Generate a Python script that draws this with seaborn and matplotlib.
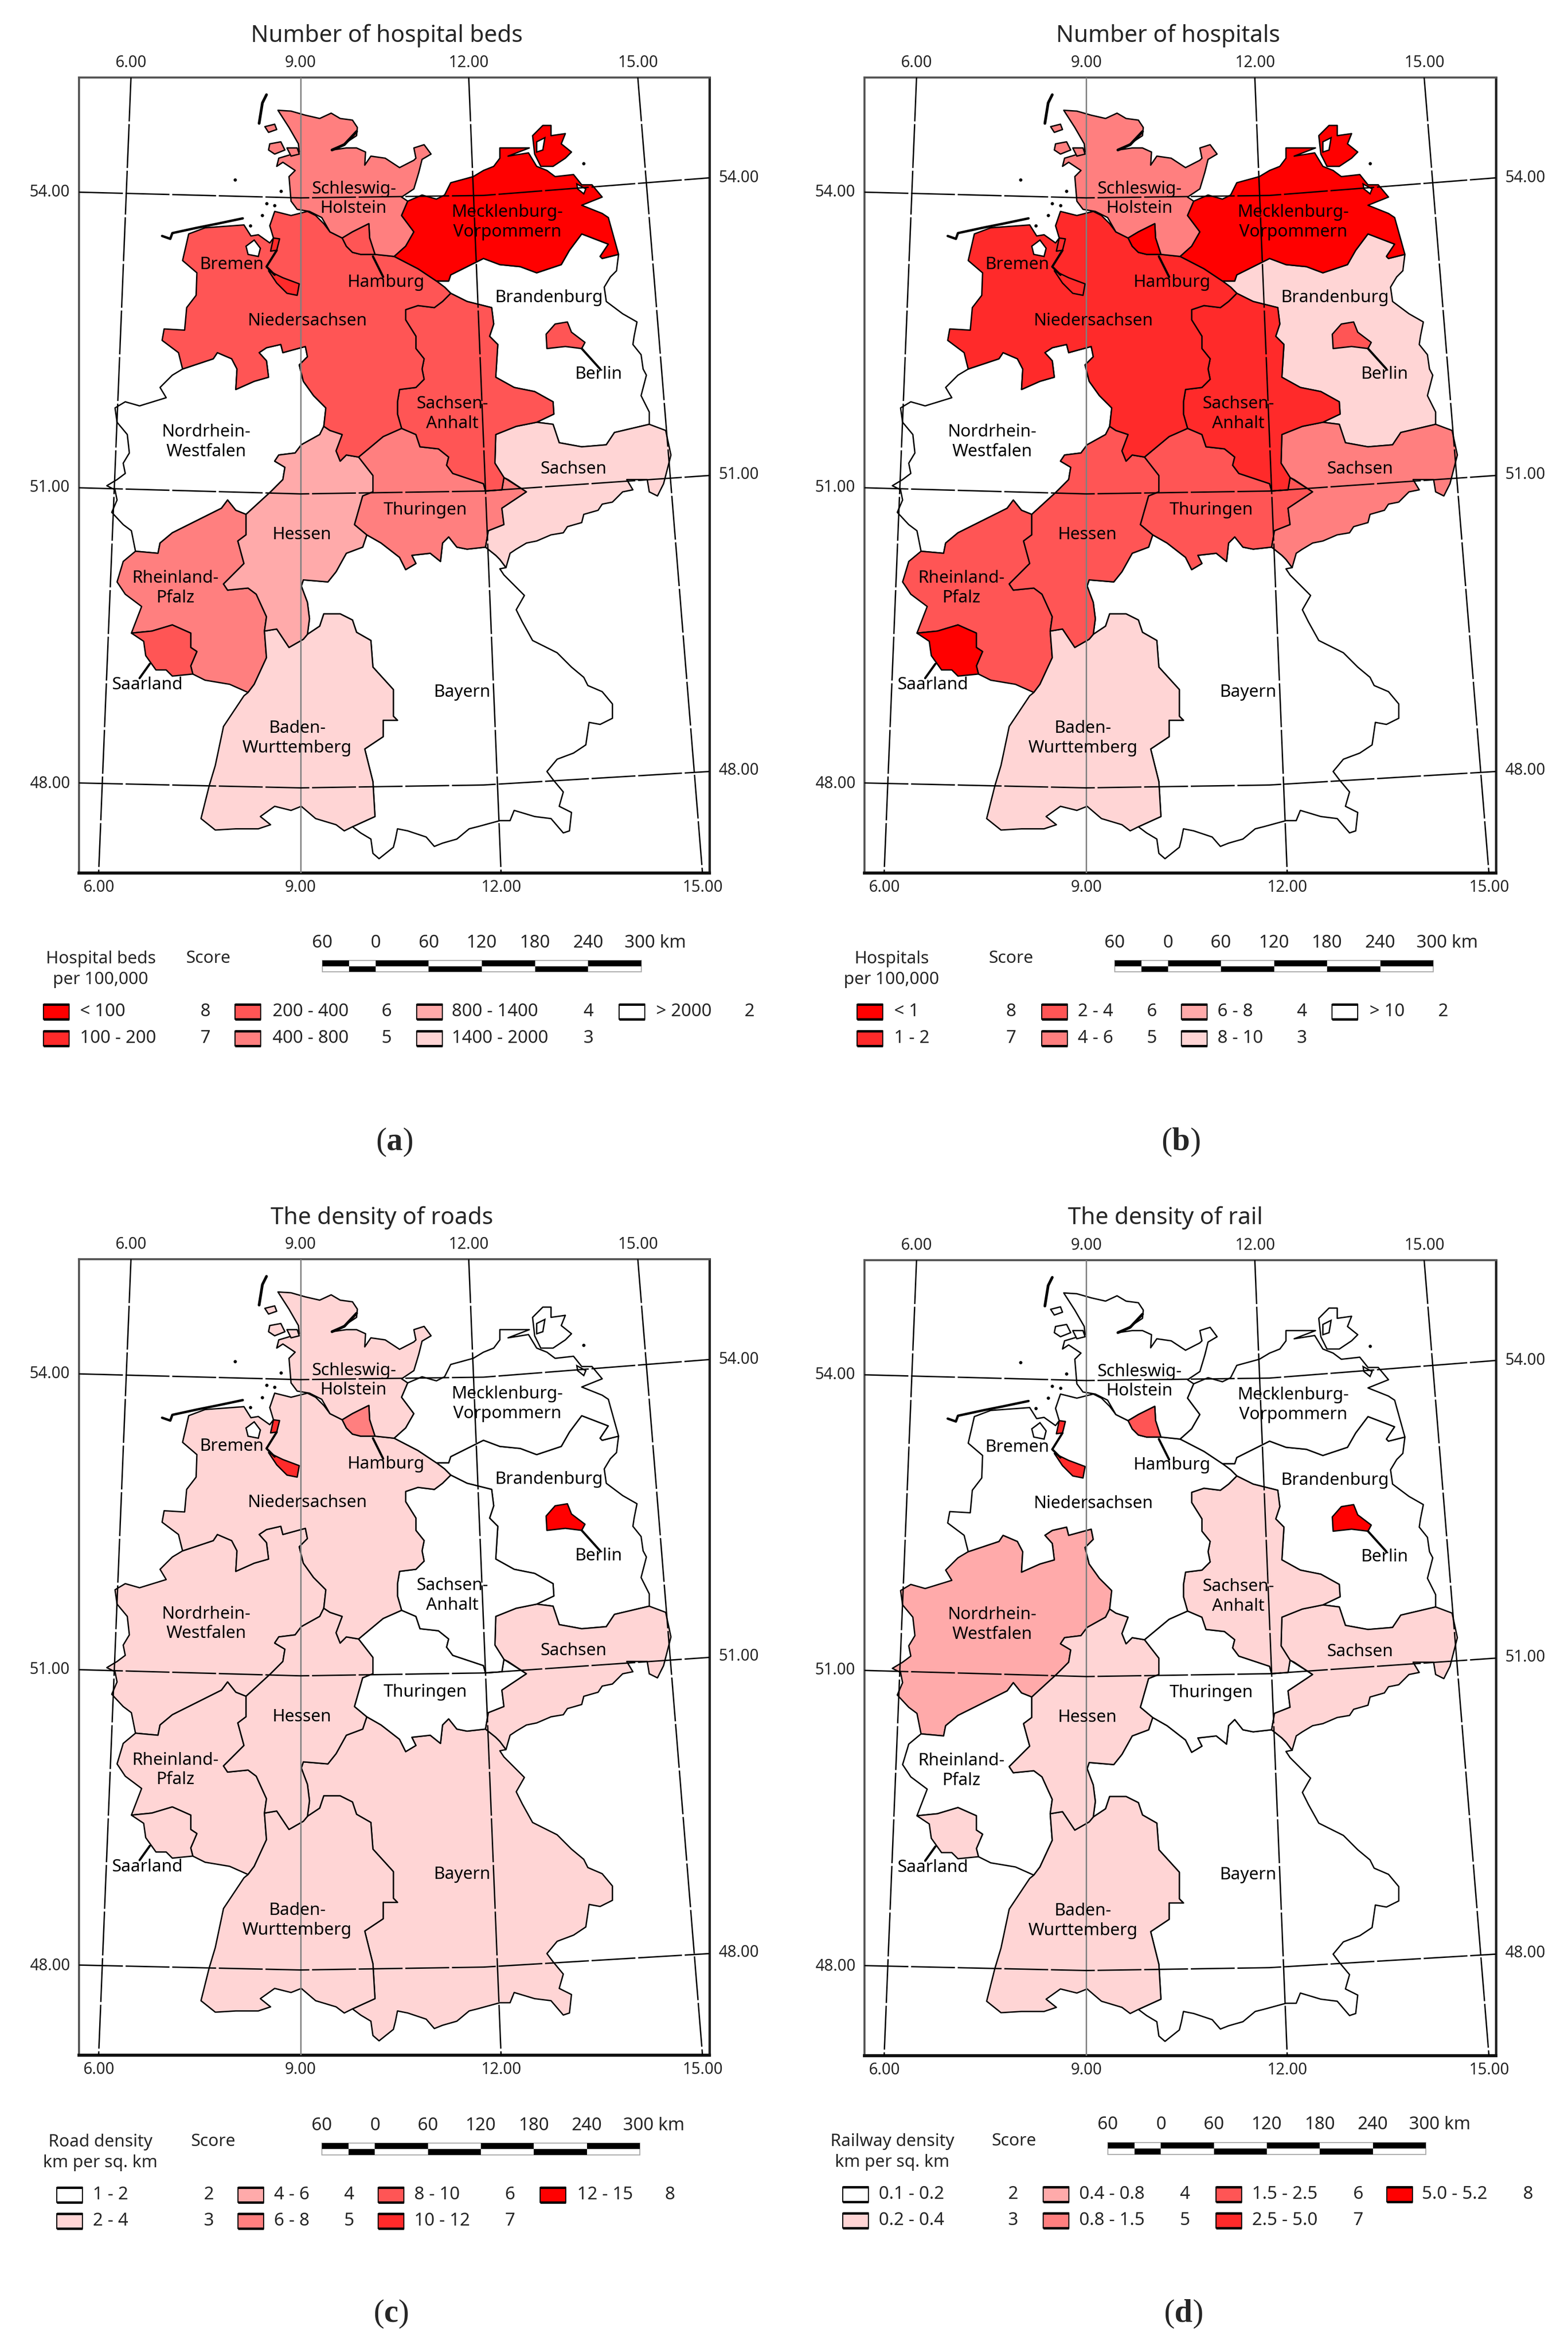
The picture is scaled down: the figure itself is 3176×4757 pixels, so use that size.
import numpy as np
import pandas as pd
import matplotlib
matplotlib.use("Agg")
import matplotlib.pyplot as plt
from matplotlib.patches import Polygon, Rectangle
import seaborn as sns

sns.set_theme(style="white")
plt.rcParams["font.family"] = ["Noto Sans", "DejaVu Sans"]
plt.rcParams["mathtext.fontset"] = "custom"
plt.rcParams["mathtext.bf"] = "Liberation Serif:bold"
plt.rcParams["mathtext.rm"] = "Liberation Serif"

# ---------- data: state outlines, in map-grid units ----------
SH = [(498,88),(530,90),(565,100),(600,108),(628,95),(650,108),(680,112),(692,130),(690,150),(660,170),(630,185),(665,180),(690,180),(712,190),(710,222),(725,200),(760,205),(795,228),(830,210),(835,205),(830,180),(855,172),(872,195),(850,208),(842,240),(830,280),(800,300),(815,310),(800,345),(830,385),(810,420),(782,445),(735,440),(722,400),(720,365),(680,385),(655,400),(625,385),(605,350),(575,335),(545,330),(530,310),(525,250),(540,235),(510,215),(495,225),(500,205),(550,190),(548,170),(525,130)]
HH = [(655,400),(680,385),(720,365),(722,400),(735,440),(700,440),(680,435),(665,420)]
NI = [(490,335),(530,345),(570,335),(590,345),(610,365),(625,385),(655,400),(665,420),(680,435),(700,440),(735,440),(782,445),(840,475),(885,505),(905,520),(920,535),(900,555),(880,570),(840,565),(810,575),(810,600),(835,640),(835,670),(855,695),(850,720),(855,745),(835,765),(795,770),(790,800),(790,830),(800,865),(755,885),(695,935),(665,930),(650,945),(640,920),(655,880),(625,870),(610,860),(615,815),(585,785),(560,750),(550,710),(570,690),(565,665),(510,680),(505,660),(470,668),(452,680),(470,700),(475,740),(440,750),(395,770),(398,720),(385,695),(350,680),(340,695),(265,720),(255,680),(215,650),(220,622),(270,625),(275,570),(298,540),(300,485),(265,455),(280,390),(320,375),(415,368),(432,395),(450,392),(478,412),(487,400),(478,370)]
HB_CITY = [(475,480),(510,497),(550,512),(545,540),(520,535),(495,510)]
HB_PORT = [(487,400),(502,402),(495,430),(480,432)]
MV = [(782,445),(810,420),(830,385),(800,345),(815,310),(850,295),(885,305),(905,295),(920,265),(975,250),(1000,235),(1025,225),(1040,205),(1040,180),(1112,180),(1060,200),(1110,192),(1130,225),(1155,235),(1175,250),(1220,245),(1240,270),(1265,270),(1290,300),(1240,320),(1290,340),(1305,350),(1330,440),(1290,450),(1285,445),(1305,415),(1240,390),(1210,430),(1190,465),(1130,485),(1090,470),(1040,465),(1000,450),(960,470),(920,490),(915,505),(885,505),(840,475)]
RUEGEN = [(1125,195),(1120,150),(1145,125),(1165,125),(1165,150),(1200,145),(1190,170),(1215,190),(1200,205),(1170,225),(1140,225)]
ST = [(920,535),(960,555),(1020,570),(1025,610),(1015,640),(1035,660),(1030,740),(1075,765),(1125,775),(1170,800),(1172,830),(1130,850),(1080,860),(1030,880),(1028,950),(1050,985),(1045,1015),(1005,1018),(1000,1000),(925,975),(910,955),(915,935),(890,915),(845,910),(835,880),(800,865),(790,830),(790,800),(795,770),(835,765),(855,745),(850,720),(855,695),(835,670),(835,640),(810,600),(810,575),(840,565),(880,570),(900,555)]
SN = [(1030,880),(1080,860),(1130,850),(1170,855),(1185,900),(1240,910),(1300,905),(1320,875),(1405,855),(1445,870),(1458,930),(1440,1000),(1425,1030),(1405,1020),(1400,990),(1350,990),(1365,1015),(1340,1020),(1315,1045),(1290,1050),(1280,1065),(1245,1075),(1240,1095),(1205,1105),(1195,1120),(1165,1125),(1130,1140),(1105,1145),(1080,1160),(1065,1170),(1055,1205),(1040,1185),(1030,1175),(1005,1155),(1012,1115),(1050,1100),(1045,1060),(1105,1020),(1060,990),(1050,985),(1028,950)]
TH = [(800,865),(835,880),(845,910),(890,915),(915,935),(910,955),(925,975),(1000,1000),(1005,1018),(1045,1015),(1050,985),(1105,1020),(1045,1060),(1050,1100),(1012,1115),(1005,1155),(960,1160),(935,1155),(915,1130),(900,1145),(895,1190),(870,1170),(825,1175),(835,1195),(810,1210),(795,1180),(750,1145),(715,1125),(685,1100),(705,1030),(730,1020),(730,980),(695,935),(755,885)]
HE = [(610,860),(625,870),(655,880),(640,920),(650,945),(665,930),(695,935),(730,980),(730,1020),(705,1030),(685,1100),(715,1125),(705,1155),(665,1170),(640,1215),(620,1240),(560,1235),(555,1250),(570,1290),(575,1330),(570,1368),(560,1380),(525,1400),(495,1355),(465,1360),(470,1325),(445,1270),(425,1255),(375,1260),(365,1245),(415,1195),(400,1140),(420,1125),(420,1075),(480,1020),(510,990),(515,960),(490,945),(500,930),(540,925),(555,905),(600,880)]
NW = [(265,720),(340,695),(350,680),(385,695),(398,720),(395,770),(440,750),(475,740),(470,700),(452,680),(470,668),(505,660),(510,680),(565,665),(570,690),(550,710),(560,750),(585,785),(615,815),(610,860),(600,880),(555,905),(540,925),(500,930),(490,945),(515,960),(510,990),(480,1020),(420,1075),(395,1065),(375,1040),(360,1060),(300,1090),(240,1120),(210,1145),(205,1170),(150,1165),(140,1115),(120,1100),(92,1070),(105,1040),(100,1015),(80,1005),(105,990),(125,975),(120,950),(135,925),(130,880),(105,850),(100,815),(125,800),(160,810),(225,790),(210,765),(240,735)]
RP = [(150,1165),(205,1170),(210,1145),(240,1120),(300,1090),(360,1060),(375,1040),(395,1065),(420,1075),(420,1125),(400,1140),(415,1195),(365,1245),(375,1260),(425,1255),(445,1270),(470,1325),(465,1360),(470,1425),(440,1490),(425,1510),(380,1490),(320,1480),(290,1465),(285,1445),(300,1410),(285,1400),(285,1365),(240,1345),(190,1360),(140,1365),(165,1300),(125,1270),(105,1240),(120,1190)]
SL = [(140,1365),(190,1360),(240,1345),(285,1365),(285,1400),(300,1410),(285,1445),(290,1465),(240,1470),(225,1455),(200,1455),(175,1420),(170,1385)]
BW = [(425,1510),(440,1490),(470,1425),(465,1360),(495,1355),(525,1400),(560,1380),(570,1368),(600,1348),(610,1318),(650,1318),(680,1333),(690,1363),(725,1383),(730,1448),(780,1503),(780,1568),(790,1578),(755,1578),(755,1618),(710,1648),(730,1728),(735,1813),(680,1838),(660,1848),(640,1833),(590,1818),(555,1788),(530,1798),(490,1788),(455,1813),(480,1833),(450,1843),(395,1843),(345,1846),(310,1818),(330,1738),(345,1688),(365,1593),(415,1518)]
BY = [(1055,1205),(1040,1208),(1050,1223),(1100,1273),(1080,1308),(1095,1338),(1120,1383),(1150,1398),(1180,1413),(1215,1448),(1245,1473),(1255,1493),(1290,1508),(1315,1538),(1315,1573),(1285,1588),(1258,1583),(1250,1638),(1220,1658),(1180,1673),(1155,1703),(1170,1723),(1195,1753),(1185,1788),(1215,1803),(1210,1848),(1195,1853),(1165,1818),(1125,1813),(1075,1798),(1065,1823),(1040,1823),(985,1838),(965,1843),(935,1868),(900,1878),(880,1886),(860,1863),(815,1848),(790,1843),(785,1868),(780,1888),(745,1916),(730,1903),(725,1868),(700,1853),(680,1838),(735,1813),(730,1728),(710,1648),(755,1618),(755,1578),(790,1578),(780,1568),(780,1503),(730,1448),(725,1383),(690,1363),(680,1333),(650,1318),(610,1318),(600,1348),(570,1368),(575,1330),(570,1290),(555,1250),(560,1235),(620,1240),(640,1215),(665,1170),(705,1155),(715,1125),(750,1145),(795,1180),(810,1210),(835,1195),(825,1175),(870,1170),(895,1190),(900,1145),(915,1130),(935,1155),(960,1160),(1005,1155),(1030,1175),(1040,1185)]
BB = [(1330,440),(1325,480),(1310,495),(1295,520),(1300,555),(1340,585),(1375,605),(1368,640),(1365,660),(1385,685),(1390,720),(1398,735),(1385,785),(1405,825),(1405,855),(1320,875),(1300,905),(1240,910),(1185,900),(1170,855),(1130,850),(1172,830),(1170,800),(1125,775),(1075,765),(1030,740),(1035,660),(1015,640),(1025,610),(1020,570),(960,555),(920,535),(905,520),(885,505),(915,505),(920,490),(960,470),(1000,450),(1040,465),(1090,470),(1130,485),(1190,465),(1210,430),(1240,390),(1305,415),(1285,445),(1290,450)]
BE = [(1153,635),(1175,610),(1205,605),(1215,630),(1248,655),(1240,670),(1200,665),(1155,670)]
FOEHR = [(466,128),(490,122),(495,135),(475,142)]
PELLWORM = [(478,170),(505,165),(515,185),(490,195),(475,185)]
NORDSTRAND = [(520,180),(545,180),(550,195),(530,200)]
SYLT = [(470,50),(460,70),(452,120)]
FRISIAN = [(215,395),(235,402),(240,388),(300,375),(350,365),(412,352)]
SCHLEI = [(630,185),(660,172),(690,140)]
SMALL_ISLES_U = [393,470,460,430,505,490,1245]
SMALL_ISLES_V = [258,315,345,370,285,320,218]
JADE_BAY = [(420,420),(440,405),(455,425),(450,445),(425,440)]
ACHTERWASSER = [(1228,268),(1250,280),(1245,292),(1230,280)]
RUEGEN_BODDEN = [(1130,165),(1150,155),(1145,185),(1130,190)]

STATE_SHAPES = {"SH":[SH,FOEHR,PELLWORM,NORDSTRAND],"HH":[HH],"NI":[NI],"HB":[HB_CITY,HB_PORT],
                "MV":[MV,RUEGEN],"ST":[ST],"SN":[SN],"TH":[TH],"HE":[HE],"NW":[NW],"RP":[RP],
                "SL":[SL],"BW":[BW],"BY":[BY],"BB":[BB],"BE":[BE]}
STATE_ORDER = ["BB","BY","NW","RP","BW","HE","TH","SN","ST","NI","SH","MV","SL","HH","HB","BE"]
WATER_SHAPES = [JADE_BAY, ACHTERWASSER, RUEGEN_BODDEN]

# scores per state for the four panels
SCORE_A = dict(SH=5,HH=6,HB=7,NI=6,MV=8,BB=2,BE=6,ST=6,SN=3,TH=5,HE=4,NW=2,RP=5,SL=6,BW=3,BY=2)
SCORE_B = dict(SH=5,HH=8,HB=7,NI=7,MV=8,BB=3,BE=6,ST=7,SN=5,TH=6,HE=6,NW=2,RP=6,SL=8,BW=3,BY=2)
SCORE_C = dict(SH=3,HH=5,HB=7,NI=3,MV=2,BB=2,BE=8,ST=2,SN=3,TH=2,HE=3,NW=3,RP=3,SL=3,BW=3,BY=3)
SCORE_D = dict(SH=2,HH=6,HB=7,NI=2,MV=2,BB=2,BE=8,ST=3,SN=3,TH=2,HE=3,NW=4,RP=2,SL=3,BW=3,BY=2)

STATE_LABELS = [("Schleswig-\nHolstein",683,304),("Mecklenburg-\nVorpommern",1058,361),("Bremen",385,465),
    ("Hamburg",762,508),("Brandenburg",1160,546),("Niedersachsen",570,602),("Berlin",1281,733),
    ("Sachsen-\nAnhalt",924,829),("Nordrhein-\nWestfalen",323,898),("Sachsen",1220,964),("Thuringen",858,1065),
    ("Hessen",556,1125),("Rheinland-\nPfalz",248,1255),("Saarland",178,1492),("Bayern",948,1510),
    ("Baden-\nWurttemberg",545,1622)]
LEADERS = [[(495,430),(470,470),(490,490)],[(730,445),(755,495)],[(1240,670),(1285,720)],[(185,1440),(160,1475)]]

# graticule
MERIDIAN_LABELS = ["6.00","9.00","12.00","15.00"]
MERIDIAN_TOP = [139,553,964,1377]
MERIDIAN_BOTTOM = [60,553,1043,1535]
PARALLEL_U = [12,553,1000,1552]
PARALLEL_54 = [288,302,296,253]
PARALLEL_51 = [1010,1025,1018,980]
PARALLEL_48 = [1731,1743,1736,1703]
PARALLEL_LABELS = ["54.00","51.00","48.00"]
RIGHT_V = [253,978,1701]
LEFT_V = [288,1010,1733]

SCALE_KM = [-60,0,60,120,180,240,300]
SCALE_TOP_BLACK = [(-60,-30),(0,60),(120,180),(240,300)]
SCALE_BOTTOM_BLACK = [(-30,0),(60,120),(180,240)]

TITLES = ["Number of hospital beds","Number of hospitals","The density of roads","The density of rail"]
LETTERS = ["a","b","c","d"]
LEGEND_HEADS = ["Hospital beds\nper 100,000","Hospitals\nper 100,000","Road density\nkm per sq. km","Railway density\nkm per sq. km"]
LEGEND_A = [("< 100",8),("100 - 200",7),("200 - 400",6),("400 - 800",5),("800 - 1400",4),("1400 - 2000",3),("> 2000",2)]
LEGEND_B = [("< 1",8),("1 - 2",7),("2 - 4",6),("4 - 6",5),("6 - 8",4),("8 - 10",3),("> 10",2)]
LEGEND_C = [("1 - 2",2),("2 - 4",3),("4 - 6",4),("6 - 8",5),("8 - 10",6),("10 - 12",7),("12 - 15",8)]
LEGEND_D = [("0.1 - 0.2",2),("0.2 - 0.4",3),("0.4 - 0.8",4),("0.8 - 1.5",5),("1.5 - 2.5",6),("2.5 - 5.0",7),("5.0 - 5.2",8)]

# ---------- layout, figure pixels ----------
W, H = 3176, 4757
palette = sns.blend_palette(["#ffffff", "#ff0000"], 7)
score_color = {s: palette[s-2] for s in range(2, 9)}

PANELS = [
 dict(frame=(160,157,1437,1768), title=(783,72), letter=(799,2313), scores=SCORE_A, legend=LEGEND_A, head=(204,1963), scorehead=(422,1941),
      swatch=[88,476,844,1254], text=[162,552,915,1329], num=[416,783,1192,1518], rows=(2049,2103),
      bar=(653,1299,1945,1968), bar_lab=1910),
 dict(frame=(1751,157,3030,1768), title=(2366,72), letter=(2391,2313), scores=SCORE_B, legend=LEGEND_B, head=(1806,1963), scorehead=(2047,1941),
      swatch=[1736,2110,2393,2698], text=[1811,2183,2466,2774], num=[2048,2333,2637,2923], rows=(2049,2103),
      bar=(2258,2903,1945,1968), bar_lab=1910),
 dict(frame=(160,2550,1437,4162), title=(773,2466), letter=(792,4686), scores=SCORE_C, legend=LEGEND_C, head=(203,4359), scorehead=(431,4337),
      swatch=[115,482,766,1094], text=[188,555,839,1169], num=[423,707,1033,1357], rows=(4445,4498),
      bar=(652,1296,4340,4364), bar_lab=4305),
 dict(frame=(1751,2552,3030,4163), title=(2360,2466), letter=(2396,4686), scores=SCORE_D, legend=LEGEND_D, head=(1807,4358), scorehead=(2054,4336),
      swatch=[1707,2113,2463,2809], text=[1780,2186,2536,2880], num=[2052,2400,2751,3095], rows=(4444,4497),
      bar=(2244,2888,4339,4363), bar_lab=4303),
]

fig = plt.figure(figsize=(W/100, H/100), dpi=100, facecolor="white")
over = fig.add_axes([0, 0, 1, 1], zorder=5)
over.set_xlim(0, W); over.set_ylim(H, 0); over.axis("off"); over.patch.set_alpha(0)

EDGE = 2.0
FS_LABEL, FS_TICK, FS_TITLE, FS_LEG, FS_BAR = 25, 23, 34, 26, 26

def draw_panel(p, title, letter, head):
    x0, y0, x1, y1 = p["frame"]
    ax = fig.add_axes([x0/W, 1-y1/H, (x1-x0)/W, (y1-y0)/H])
    ax.set_xlim(12, 1552); ax.set_ylim(1951, 8)
    ax.set_xticks([]); ax.set_yticks([]); ax.grid(False)
    for sp, col, lw in (("top","#555555",3),("left","#555555",3),("bottom","#111111",4.5),("right","#222222",3.5)):
        ax.spines[sp].set_visible(True); ax.spines[sp].set_color(col); ax.spines[sp].set_linewidth(lw)
    # states
    for st in STATE_ORDER:
        for shape in STATE_SHAPES[st]:
            ax.add_patch(Polygon(shape, closed=True, fc=score_color[p["scores"][st]], ec="black", lw=EDGE, joinstyle="round", zorder=2))
    for shape in WATER_SHAPES:
        ax.add_patch(Polygon(shape, closed=True, fc="white", ec="black", lw=EDGE, zorder=2.5))
    for ln, w in ((SYLT, 4), (FRISIAN, 3.5), (SCHLEI, 4)):
        a = np.array(ln)
        ax.plot(a[:,0], a[:,1], color="black", lw=w, zorder=3, solid_capstyle="round")
    ax.scatter(SMALL_ISLES_U, SMALL_ISLES_V, s=14, color="black", zorder=3)
    for ln in LEADERS:
        a = np.array(ln)
        ax.plot(a[:,0], a[:,1], color="black", lw=3.2, zorder=3)
    # graticule through seaborn
    for i, (t, b) in enumerate(zip(MERIDIAN_TOP, MERIDIAN_BOTTOM)):
        c, ls = ("#808080", "-") if i == 1 else ("black", (0, (32, 2)))
        df = pd.DataFrame({"u": [t, b], "v": [8, 1951]})
        sns.lineplot(data=df, x="u", y="v", sort=False, estimator=None, ax=ax, color=c, lw=2, linestyle=ls, zorder=4)
    for vals in (PARALLEL_54, PARALLEL_51, PARALLEL_48):
        df = pd.DataFrame({"u": PARALLEL_U, "v": vals})
        sns.lineplot(data=df, x="u", y="v", sort=False, estimator=None, ax=ax, color="black", lw=2, linestyle=(0, (32, 2)), zorder=4)
    ax.set_xlim(12, 1552); ax.set_ylim(1951, 8); ax.set_xlabel(""); ax.set_ylabel("")
    # state names
    for txt, u, v in STATE_LABELS:
        ax.text(u, v, txt, ha="center", va="center", fontsize=FS_LABEL, color="black", linespacing=1.22, zorder=6)
    # coordinate labels
    for lab, t, b in zip(MERIDIAN_LABELS, MERIDIAN_TOP, MERIDIAN_BOTTOM):
        ax.text(t, -27, lab, ha="center", va="center", fontsize=FS_TICK, clip_on=False)
        ax.text(b, 1986, lab, ha="center", va="center", fontsize=FS_TICK, clip_on=False)
    for lab, l, r in zip(PARALLEL_LABELS, LEFT_V, RIGHT_V):
        ax.text(-59, l, lab, ha="center", va="center", fontsize=FS_TICK, clip_on=False)
        ax.text(1624, r, lab, ha="center", va="center", fontsize=FS_TICK, clip_on=False)
    # title, panel letter
    over.text(*p["title"], title, ha="center", va="center", fontsize=FS_TITLE)
    over.text(*p["letter"], rf"($\mathbf{{{letter}}}$)", ha="center", va="center", fontsize=47, math_fontfamily="custom", family="Liberation Serif")
    # legend
    over.text(*p["head"], head, ha="center", va="center", fontsize=FS_LEG-1, linespacing=1.28)
    over.text(*p["scorehead"], "Score", ha="center", va="center", fontsize=FS_LEG-1)
    slots = [(0,0),(0,1),(1,0),(1,1),(2,0),(2,1),(3,0)]
    for (lab, sc), (c, r) in zip(p["legend"], slots):
        yc = p["rows"][r]; x = p["swatch"][c]
        over.add_patch(Rectangle((x, yc-15), 52, 30, fc=score_color[sc], ec="black", lw=1.6))
        over.plot([x, x+52], [yc-15, yc-15], color="black", lw=3.5, solid_capstyle="butt")
        over.plot([x, x+52], [yc+15, yc+15], color="black", lw=3.5, solid_capstyle="butt")
        over.text(p["text"][c], yc, lab, ha="left", va="center", fontsize=FS_LEG)
        over.text(p["num"][c], yc, str(sc), ha="center", va="center", fontsize=FS_LEG)
    # scale bar, km mapped to pixels
    bx0, bx1, by0, by1 = p["bar"]
    k = (bx1-bx0)/360.0
    ym = (by0+by1)/2
    over.add_patch(Rectangle((bx0, by0), bx1-bx0, by1-by0, fc="white", ec="#aaaaaa", lw=1.5))
    for a, b in SCALE_TOP_BLACK:
        over.add_patch(Rectangle((bx0+(a+60)*k, by0), (b-a)*k, ym-by0, fc="black", ec="none"))
    for a, b in SCALE_BOTTOM_BLACK:
        over.add_patch(Rectangle((bx0+(a+60)*k, ym), (b-a)*k, by1-ym, fc="black", ec="none"))
    for km in SCALE_KM:
        xk = bx0+(km+60)*k
        if km == 300:
            over.text(xk+28, p["bar_lab"], "300 km", ha="center", va="center", fontsize=FS_BAR)
        else:
            over.text(xk, p["bar_lab"], str(abs(km)), ha="center", va="center", fontsize=FS_BAR)

for p, t, l, h in zip(PANELS, TITLES, LETTERS, LEGEND_HEADS):
    draw_panel(p, t, l, h)

fig.savefig("out.png", dpi=100, facecolor="white")
